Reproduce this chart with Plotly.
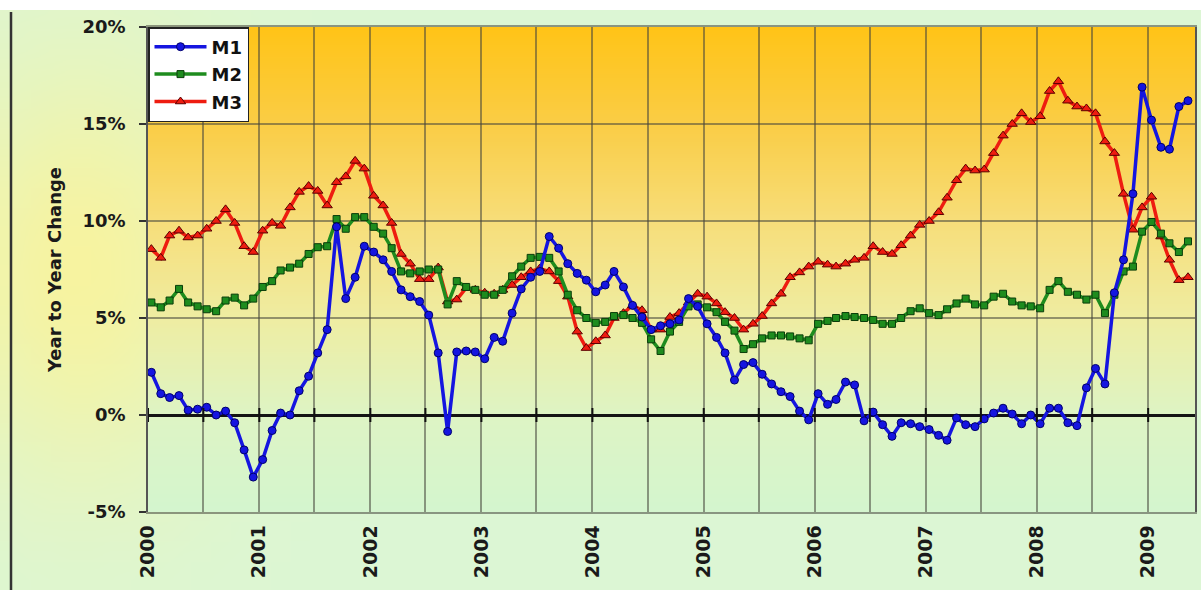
import zlib, struct, base64, math
import plotly.graph_objects as go

# ---------------- data (monthly, Jan 2000 - May 2009) ----------------
M1 = [2.2, 1.1, 0.9, 1.0, 0.25, 0.3, 0.4, 0.0, 0.2, -0.4, -1.8, -3.2,
      -2.3, -0.8, 0.1, 0.0, 1.25, 2.0, 3.2, 4.4, 9.7, 6.0, 7.1, 8.7,
      8.4, 8.0, 7.4, 6.45, 6.1, 5.85, 5.15, 3.2, -0.85, 3.25, 3.3, 3.25,
      2.9, 4.0, 3.8, 5.25, 6.5, 7.1, 7.4, 9.2, 8.6, 7.8, 7.3, 6.95,
      6.35, 6.7, 7.4, 6.6, 5.65, 5.05, 4.4, 4.6, 4.7, 4.9, 6.0, 5.6,
      4.7, 4.0, 3.2, 1.8, 2.6, 2.7, 2.1, 1.6, 1.2, 0.95, 0.2, -0.25,
      1.1, 0.55, 0.8, 1.7, 1.55, -0.3, 0.15, -0.5, -1.1, -0.4, -0.45, -0.6,
      -0.75, -1.05, -1.3, -0.15, -0.5, -0.6, -0.2, 0.1, 0.35, 0.05, -0.45, 0.0,
      -0.45, 0.35, 0.35, -0.4, -0.55, 1.4, 2.4, 1.6, 6.3, 8.0, 11.4, 16.9,
      15.2, 13.8, 13.7, 15.9, 16.2]

M2 = [5.8, 5.55, 5.9, 6.5, 5.8, 5.6, 5.45, 5.35, 5.9, 6.05, 5.65, 6.0,
      6.6, 6.9, 7.45, 7.6, 7.8, 8.3, 8.65, 8.7, 10.1, 9.6, 10.2, 10.2,
      9.7, 9.35, 8.6, 7.4, 7.3, 7.4, 7.5, 7.5, 5.7, 6.9, 6.6, 6.45,
      6.2, 6.2, 6.45, 7.15, 7.65, 8.1, 8.15, 8.1, 7.4, 6.2, 5.4, 5.0,
      4.75, 4.8, 5.1, 5.15, 5.0, 4.75, 3.9, 3.3, 4.3, 4.8, 5.6, 5.7,
      5.55, 5.3, 4.8, 4.35, 3.4, 3.65, 3.95, 4.1, 4.1, 4.05, 3.95, 3.85,
      4.7, 4.85, 5.0, 5.1, 5.05, 5.0, 4.9, 4.7, 4.7, 5.0, 5.35, 5.5,
      5.25, 5.15, 5.45, 5.75, 6.0, 5.7, 5.65, 6.1, 6.25, 5.85, 5.65, 5.6,
      5.5, 6.45, 6.9, 6.35, 6.2, 5.95, 6.2, 5.25, 6.2, 7.4, 7.65, 9.45,
      9.95, 9.35, 8.85, 8.4, 8.95]

M3 = [8.55, 8.1, 9.25, 9.5, 9.15, 9.25, 9.6, 10.0, 10.6, 9.9, 8.7, 8.4,
      9.5, 9.9, 9.75, 10.7, 11.5, 11.8, 11.55, 10.8, 12.0, 12.3, 13.1, 12.7,
      11.3, 10.8, 9.9, 8.3, 7.8, 7.0, 7.0, 7.6, 5.85, 5.95, 6.55, 6.45,
      6.3, 6.25, 6.45, 6.7, 7.1, 7.4, 7.55, 7.4, 6.9, 6.1, 4.3, 3.45,
      3.8, 4.1, 5.0, 5.25, 5.65, 5.4, 4.4, 4.4, 5.05, 5.25, 5.8, 6.25,
      6.1, 5.75, 5.3, 5.0, 4.4, 4.7, 5.1, 5.75, 6.25, 7.1, 7.35, 7.65,
      7.9, 7.75, 7.65, 7.8, 8.0, 8.1, 8.7, 8.4, 8.3, 8.75, 9.25, 9.8,
      10.0, 10.45, 11.2, 12.1, 12.7, 12.6, 12.65, 13.5, 14.4, 15.0, 15.55, 15.1,
      15.4, 16.7, 17.2, 16.2, 15.9, 15.8, 15.55, 14.1, 13.5, 11.4, 9.55, 10.7,
      11.25, 9.2, 8.0, 6.95, 7.1]

DATES = [f"{2000 + i // 12}-{i % 12 + 1:02d}-12" for i in range(len(M1))]
Y_TICKS = [-5, 0, 5, 10, 15, 20]
Y_TICKTEXT = ["-5%", "0%", "5%", "10%", "15%", "20%"]
HALF_YEAR_TICKS = [f"{y}-{m:02d}-01" for y in range(2000, 2010) for m in (1, 7)]

# ---------------- geometry ----------------
W, H = 1201, 590
ML, MR, MT, MB = 148, 6, 27, 78
PW, PH = W - ML - MR, H - MT - MB
FONT = "DejaVu Sans"


def png_uri(pixels, w, h):
    raw = b"".join(b"\x00" + bytes(c for px in pixels[r * w:(r + 1) * w] for c in px) for r in range(h))

    def chunk(t, d):
        c = t + d
        return struct.pack(">I", len(d)) + c + struct.pack(">I", zlib.crc32(c) & 0xffffffff)

    png = (b"\x89PNG\r\n\x1a\n" + chunk(b"IHDR", struct.pack(">IIBBBBB", w, h, 8, 2, 0, 0, 0))
           + chunk(b"IDAT", zlib.compress(raw, 9)) + chunk(b"IEND", b""))
    return "data:image/png;base64," + base64.b64encode(png).decode()


def lerp_stops(stops, t):
    for (t0, c0), (t1, c1) in zip(stops, stops[1:]):
        if t0 <= t <= t1:
            f = (t - t0) / (t1 - t0) if t1 > t0 else 0
            return tuple(int(round(a + (b - a) * f)) for a, b in zip(c0, c1))
    return stops[-1][1]


# plot-area vertical gradient
plot_stops = [(0.0, (255, 196, 24)), (0.2, (250, 205, 70)), (0.4, (247, 222, 122)),
              (0.6, (239, 237, 162)), (0.8, (222, 244, 196)), (1.0, (212, 245, 206))]
GH = 120
plot_px = []
for r in range(GH):
    c = lerp_stops(plot_stops, r / (GH - 1))
    plot_px += [c, c]
plot_img = png_uri(plot_px, 2, GH)

# paper background (light green with a yellow glow on the left)
PWI, PHI = 60, 30
paper_px = []
base = (220, 246, 212)
yel = (247, 243, 160)
for r in range(PHI):
    yp = (r + 0.5) / PHI * H
    for cidx in range(PWI):
        xp = (cidx + 0.5) / PWI * W
        w = math.exp(-((xp - 80) / 150) ** 2 - ((yp - 270) / 210) ** 2)
        paper_px.append(tuple(int(round(a + (b - a) * w)) for a, b in zip(base, yel)))
paper_img = png_uri(paper_px, PWI, PHI)

fig = go.Figure()

styles = [
    ("M3", M3, "#EE1C10", "triangle-up", 9, "#5a0000", 3),
    ("M2", M2, "#1E8C1E", "square", 7, "#0a3d0a", 2),
    ("M1", M1, "#1515E0", "circle", 8, "#00006a", 1),
]
for name, vals, col, sym, size, edge, rank in styles:
    fig.add_trace(go.Scatter(
        x=DATES, y=vals, name=name, mode="lines+markers",
        line=dict(color=col, width=3.5),
        marker=dict(symbol=sym, size=size, color=col, line=dict(color=edge, width=1)),
        legendgroup=name, legendrank=rank,
    ))

# small tick marks on the zero line at every half year
fig.add_trace(go.Scatter(
    x=HALF_YEAR_TICKS, y=[0] * len(HALF_YEAR_TICKS), mode="markers",
    marker=dict(symbol="line-ns", size=10, line=dict(color="#111111", width=2)),
    showlegend=False, hoverinfo="skip",
))

grid_col = "rgba(70,70,60,0.55)"
fig.update_layout(
    width=W, height=H,
    margin=dict(l=ML, r=MR, t=MT, b=MB, autoexpand=False),
    paper_bgcolor="#ddf6d2", plot_bgcolor="rgba(0,0,0,0)",
    font=dict(family=FONT, color="#1a1a1a"),
    showlegend=True,
    legend=dict(x=0, y=1, xanchor="left", yanchor="top", bgcolor="white",
                bordercolor="#222222", borderwidth=1.5,
                font=dict(family=FONT, size=18, weight="bold", color="#111111"),
                tracegroupgap=1, traceorder="grouped", itemwidth=52),
    xaxis=dict(
        type="date", range=["2000-01-01", "2009-06-04"],
        tick0="2000-01-01", dtick="M12", tickformat="%Y", tickangle=-90,
        tickfont=dict(family=FONT, size=19, weight="bold", color="#1a1a1a"),
        showgrid=True, gridcolor=grid_col, gridwidth=1.5,
        minor=dict(dtick="M6", showgrid=True, gridcolor=grid_col, gridwidth=1.5),
        ticks="", showline=True, linecolor=grid_col, linewidth=1.5, mirror=True,
        zeroline=False, ticklabelstandoff=4,
    ),
    yaxis=dict(
        range=[-5, 20], tickvals=Y_TICKS, ticktext=Y_TICKTEXT,
        tickfont=dict(family=FONT, size=18, weight="bold", color="#1a1a1a"),
        ticks="outside", ticklen=7, tickwidth=1.5, tickcolor="#333333",
        ticklabelstandoff=10,
        showgrid=True, gridcolor=grid_col, gridwidth=1.5,
        zeroline=True, zerolinecolor="#141414", zerolinewidth=2.5,
        showline=True, linecolor="#555555", linewidth=1.5, mirror=True,
        title=dict(text="Year to Year Change", standoff=16,
                   font=dict(family=FONT, size=18, weight="bold", color="#1a1a1a")),
    ),
    images=[
        dict(source=paper_img, xref="paper", yref="paper",
             x=-ML / PW, y=1 + MT / PH, sizex=W / PW, sizey=H / PH,
             xanchor="left", yanchor="top", sizing="stretch", layer="below"),
        dict(source=plot_img, xref="paper", yref="paper",
             x=0, y=1, sizex=1, sizey=1,
             xanchor="left", yanchor="top", sizing="stretch", layer="below"),
    ],
    shapes=[
        dict(type="rect", xref="paper", yref="paper", x0=-ML / PW, x1=1 + MR / PW,
             y0=1 + (MT - 10) / PH, y1=1 + MT / PH + 0.01, fillcolor="white",
             line=dict(width=0), layer="below"),
        dict(type="line", xref="paper", yref="paper", x0=-(ML - 11) / PW, x1=-(ML - 11) / PW,
             y0=1 + (MT - 12) / PH, y1=-MB / PH - 0.01, line=dict(color="#333333", width=2.5)),
    ],
)

fig.write_html("out.html")
